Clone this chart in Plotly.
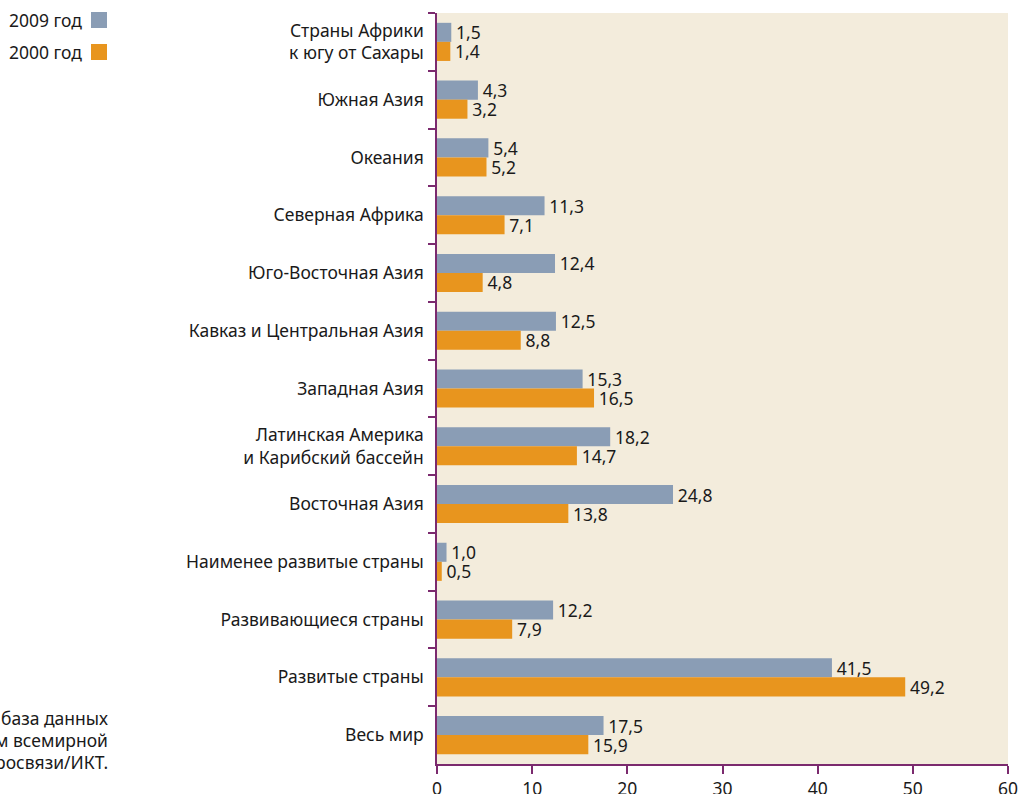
import plotly.graph_objects as go

categories = [
    "Страны Африки<br>к югу от Сахары",
    "Южная Азия",
    "Океания",
    "Северная Африка",
    "Юго-Восточная Азия",
    "Кавказ и Центральная Азия",
    "Западная Азия",
    "Латинская Америка<br>и Карибский бассейн",
    "Восточная Азия",
    "Наименее развитые страны",
    "Развивающиеся страны",
    "Развитые страны",
    "Весь мир",
]
values_2009 = [1.5, 4.3, 5.4, 11.3, 12.4, 12.5, 15.3, 18.2, 24.8, 1.0, 12.2, 41.5, 17.5]
values_2000 = [1.4, 3.2, 5.2, 7.1, 4.8, 8.8, 16.5, 14.7, 13.8, 0.5, 7.9, 49.2, 15.9]
x_ticks = [0, 10, 20, 30, 40, 50, 60]
source_lines = ["база данных", "м всемирной", "росвязи/ИКТ."]
legend_labels = ["2009 год", "2000 год"]

C2009 = "#8a9db5"
C2000 = "#e8951e"
PURPLE = "#7b2a6e"
FONT = "Noto Sans"
FS = 17.5

W, H = 1020, 794
ML, MR, MT, MB = 437, 12, 13, 30
PW = W - ML - MR
PH = H - MT - MB

def fmt(v):
    return "\u200a" + f"{v:.1f}".replace(".", ",")

fig = go.Figure()
for name, vals, col in [(legend_labels[0], values_2009, C2009), (legend_labels[1], values_2000, C2000)]:
    fig.add_trace(go.Bar(
        y=categories, x=vals, orientation="h", name=name,
        marker=dict(color=col, line=dict(width=0)),
        text=[fmt(v) for v in vals], textposition="outside",
        constraintext="none",
        textfont=dict(family=FONT, size=FS, color="#1a1a1a"),
        cliponaxis=False,
    ))

fig.update_layout(
    width=W, height=H,
    margin=dict(l=ML, r=MR, t=MT, b=MB, autoexpand=False),
    paper_bgcolor="white", plot_bgcolor="#f3ecdc",
    barmode="group", bargap=0.34, bargroupgap=0,
    showlegend=False,
    font=dict(family=FONT, size=FS, color="#1a1a1a"),
)
fig.update_xaxes(
    range=[0, 60], tickvals=x_ticks, showgrid=False, zeroline=False,
    showline=True, linecolor=PURPLE, linewidth=1.5,
    ticks="outside", ticklen=8, tickcolor=PURPLE, tickwidth=1.5,
    tickfont=dict(family=FONT, size=FS, color="#1a1a1a"),
)
fig.update_yaxes(
    categoryorder="array", categoryarray=categories, autorange="reversed",
    showgrid=False, showline=True, linecolor=PURPLE, linewidth=1.5,
    ticks="outside", ticklen=7, tickcolor=PURPLE, tickwidth=1.5,
    tickson="boundaries", ticklabelstandoff=8,
    tickfont=dict(family=FONT, size=FS, color="#1a1a1a"),
)

def px_x(p):
    return (p - ML) / PW

def px_y(p):
    return 1 - (p - MT) / PH

# legend
leg_y = [20, 52]
for lab, col, yy in zip(legend_labels, [C2009, C2000], leg_y):
    fig.add_annotation(xref="paper", yref="paper", x=px_x(84), y=px_y(yy),
                       text=lab, showarrow=False, xanchor="right", yanchor="middle",
                       font=dict(family=FONT, size=FS, color="#1a1a1a"))
    fig.add_shape(type="rect", xref="paper", yref="paper",
                  x0=px_x(91), x1=px_x(107), y0=px_y(yy - 8), y1=px_y(yy + 8),
                  fillcolor=col, line=dict(width=0))

# source text (cut off at left edge)
for i, line in enumerate(source_lines):
    fig.add_annotation(xref="paper", yref="paper", x=px_x(110), y=px_y(718 + 22 * i),
                       text=line, showarrow=False, xanchor="right", yanchor="middle",
                       font=dict(family=FONT, size=FS, color="#1a1a1a"))

fig.write_html("out.html", config={"displayModeBar": False},
               post_script="document.body.style.margin='0';document.body.style.overflow='hidden';")
